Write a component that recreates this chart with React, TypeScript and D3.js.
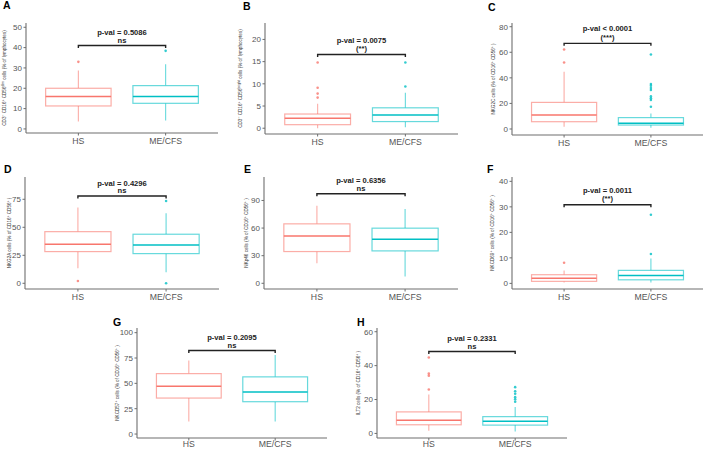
import React from "react";
import * as d3 from "d3";

const categories = ["HS", "ME/CFS"];
const panelLetters = ["A", "B", "C", "D", "E", "F", "G", "H"];

// [lower whisker, Q1, median, Q3, upper whisker]
const hsStats = [
  [3.6, 11.3, 15.9, 20.0, 28.7],
  [0.0, 0.8, 2.25, 3.2, 5.5],
  [1.8, 5.7, 10.9, 20.8, 44.8],
  [13.4, 28.3, 34.8, 46.1, 67.6],
  [21.8, 34.5, 51.5, 64.6, 84.2],
  [0.3, 0.8, 2.0, 3.4, 5.1],
  [12.4, 35.5, 47.2, 59.6, 72.6],
  [1.6, 5.1, 7.8, 12.7, 23.0],
];
const meStats = [
  [4.1, 12.6, 15.9, 21.3, 31.8],
  [0.2, 1.5, 3.0, 4.6, 8.0],
  [1.0, 3.1, 4.4, 8.9, 12.2],
  [9.8, 26.5, 34.2, 43.8, 62.5],
  [7.3, 35.2, 47.9, 59.9, 80.6],
  [0.3, 1.4, 3.1, 5.1, 9.8],
  [12.4, 31.9, 41.4, 56.4, 78.0],
  [1.2, 4.9, 7.2, 9.9, 15.6],
];
const hsOutliers = [
  [33.0],
  [6.9, 7.8, 9.1, 14.8],
  [52.0, 62.2],
  [2.1],
  [],
  [8.1],
  [],
  [25.9, 34.1, 35.3, 44.8],
];
const meOutliers = [
  [38.4],
  [9.4, 14.8],
  [17.4, 22.7, 24.0, 25.5, 30.5, 32.0, 33.9, 35.2, 58.3],
  [0.0, 73.5],
  [],
  [11.5, 26.9],
  [],
  [18.7, 20.1, 21.4, 23.4, 24.9, 27.3],
];
const pValues = [
  "p-val = 0.5086",
  "p-val = 0.0075",
  "p-val < 0.0001",
  "p-val = 0.4296",
  "p-val = 0.6356",
  "p-val = 0.0011",
  "p-val = 0.2095",
  "p-val = 0.2331",
];
const significance = ["ns", "(**)", "(***)", "ns", "ns", "(**)", "ns", "ns"];
const bracketValues = [41, 16.6, 67, 78, 97.3, 30.8, 82.4, 48.3];
const yTicks = [
  [0, 10, 20, 30, 40, 50],
  [0, 5, 10, 15, 20],
  [0, 20, 40, 60, 80],
  [0, 25, 50, 75],
  [0, 30, 60, 90],
  [0, 10, 20, 30, 40],
  [0, 25, 50, 75, 100],
  [0, 20, 40, 60],
];
const yLabels = [
  "CD3^{−} CD16^{+} CD56^{dim} cells (% of lymphocytes)",
  "CD3^{−} CD16^{+} CD56^{bright} cells (% of lymphocytes)",
  "NKG2C cells (% of CD16^{+} CD56^{+} )",
  "NKG2A cells (% of CD16^{+} CD56^{+} )",
  "NKp46 cells (% of CD16^{+} CD56^{+} )",
  "NKCD69^{+} cells (% of CD16^{+} CD56^{+} )",
  "NKCD57^{+} cells (% of CD16^{+} CD56^{+} )",
  "ILT2 cells (% of CD16^{+} CD56^{+} )",
];

// layout (pixel geometry)
const layout = [
  { x0: 26, x1: 218, yTop: 23, yBot: 133, dom: [-2, 52.1], lx: 3, ly: 8.8, labX: 6 },
  { x0: 265, x1: 458, yTop: 23, yBot: 134, dom: [-1.3, 23.7], lx: 243, ly: 9.5, labX: 241.5 },
  { x0: 512, x1: 703, yTop: 23, yBot: 135, dom: [-4.7, 82.9], lx: 488, ly: 10.8, labX: 495 },
  { x0: 25, x1: 219, yTop: 177, yBot: 289, dom: [-5.1, 94.9], lx: 4, ly: 172.5, labX: 11 },
  { x0: 264, x1: 458, yTop: 177, yBot: 289, dom: [-6.2, 115.5], lx: 244, ly: 172.8, labX: 247.5 },
  { x0: 512, x1: 703, yTop: 177, yBot: 289, dom: [-2.2, 41.7], lx: 487, ly: 173.4, labX: 493.5 },
  { x0: 137, x1: 327, yTop: 328, yBot: 438, dom: [-3.9, 104.6], lx: 113, ly: 326, labX: 119 },
  { x0: 377, x1: 567, yTop: 328, yBot: 438, dom: [-2.7, 62.2], lx: 357, ly: 326, labX: 360 },
];

const colors = ["#F8766D", "#00BFC4"];
const FONT = "'Liberation Sans', Arial, Helvetica, sans-serif";

function parseLabel(s: string) {
  const parts: { t: string; sup: boolean }[] = [];
  const re = /\^\{([^}]*)\}/g;
  let last = 0;
  let m;
  while ((m = re.exec(s)) !== null) {
    if (m.index > last) parts.push({ t: s.slice(last, m.index), sup: false });
    parts.push({ t: m[1], sup: true });
    last = m.index + m[0].length;
  }
  if (last < s.length) parts.push({ t: s.slice(last), sup: false });
  return parts;
}

function Panel({ i }: { i: number }) {
  const L = layout[i];
  const x = d3.scaleLinear().domain([0.4, 2.6]).range([L.x0, L.x1]);
  const y = d3.scaleLinear().domain(L.dom).range([L.yBot, L.yTop]);
  const half = x(1.375) - x(1);
  const groups = [
    { stats: hsStats[i], out: hsOutliers[i] },
    { stats: meStats[i], out: meOutliers[i] },
  ];
  const by = y(bracketValues[i]);
  const xa = x(1);
  const xb = x(2);
  const paren = significance[i] !== "ns";
  const midY = (L.yTop + L.yBot) / 2;
  const parts = parseLabel(yLabels[i]);
  const bottomRow = i >= 6;
  return (
    <g>
      <text x={L.lx} y={L.ly} fontFamily={FONT} fontWeight="bold" fontSize={10.5} fill="#000">
        {panelLetters[i]}
      </text>
      <text
        transform={`translate(${L.labX},${midY}) rotate(-90)`}
        textAnchor="middle"
        dy="0.35em"
        fontFamily={FONT}
        fontSize={4.6}
        fill="#333"
      >
        {parts.map((p, k) =>
          p.sup ? (
            <tspan key={k} fontSize={3.4} dy={-1.6}>
              {p.t}
            </tspan>
          ) : (
            <tspan key={k} dy={k > 0 && parts[k - 1].sup ? 1.6 : 0}>
              {p.t}
            </tspan>
          )
        )}
      </text>
      {/* axes */}
      <line x1={L.x0} x2={L.x0} y1={L.yTop} y2={L.yBot} stroke="#6e6e6e" strokeWidth={1.1} />
      <line x1={L.x0} x2={L.x1} y1={L.yBot} y2={L.yBot} stroke="#6e6e6e" strokeWidth={1.1} />
      {yTicks[i].map((t) => (
        <g key={t}>
          <line x1={L.x0 - 2.5} x2={L.x0} y1={y(t)} y2={y(t)} stroke="#6e6e6e" strokeWidth={1} />
          <text
            x={L.x0 - 4}
            y={y(t)}
            dy="0.35em"
            textAnchor="end"
            fontFamily={FONT}
            fontSize={8}
            fill="#555"
          >
            {t}
          </text>
        </g>
      ))}
      {categories.map((c, k) => (
        <g key={c}>
          <line x1={x(k + 1)} x2={x(k + 1)} y1={L.yBot} y2={L.yBot + 2.5} stroke="#6e6e6e" strokeWidth={1} />
          <text
            x={x(k + 1)}
            y={L.yBot + (bottomRow ? 9.3 : 10.5)}
            textAnchor="middle"
            fontFamily={FONT}
            fontSize={8.7}
            fill="#555"
          >
            {c}
          </text>
        </g>
      ))}
      {/* boxes */}
      {groups.map((g, k) => {
        const cx = x(k + 1);
        const [lo, q1, med, q3, hi] = g.stats;
        const col = colors[k];
        return (
          <g key={k}>
            <line x1={cx} x2={cx} y1={y(hi)} y2={y(q3)} stroke={col} strokeOpacity={0.6} strokeWidth={1.1} />
            <line x1={cx} x2={cx} y1={y(q1)} y2={y(lo)} stroke={col} strokeOpacity={0.6} strokeWidth={1.1} />
            <rect
              x={cx - half}
              y={y(q3)}
              width={half * 2}
              height={y(q1) - y(q3)}
              fill="#fff"
              stroke={col}
              strokeOpacity={0.6}
              strokeWidth={1.2}
            />
            <line x1={cx - half} x2={cx + half} y1={y(med)} y2={y(med)} stroke={col} strokeWidth={1.5} />
            {g.out.map((o, j) => (
              <circle key={j} cx={cx} cy={y(o)} r={1.3} fill={col} fillOpacity={0.8} />
            ))}
          </g>
        );
      })}
      {/* bracket */}
      <path
        d={`M${xa},${by + 2.5}V${by}H${xb}V${by + 2.5}`}
        fill="none"
        stroke="#222"
        strokeWidth={1.4}
      />
      <text
        x={(xa + xb) / 2}
        y={by - (paren ? 12 : 10.3)}
        textAnchor="middle"
        fontFamily={FONT}
        fontWeight="bold"
        fontSize={7.6}
        fill="#222"
      >
        {pValues[i]}
      </text>
      <text
        x={(xa + xb) / 2}
        y={by - (paren ? 3.5 : 2.6)}
        textAnchor="middle"
        fontFamily={FONT}
        fontWeight="bold"
        fontSize={7.6}
        fill="#222"
      >
        {significance[i]}
      </text>
    </g>
  );
}

export default function App() {
  return (
    <svg
      width={708}
      height={449}
      viewBox="0 0 708 449"
      style={{ position: "absolute", left: 0, top: 0, background: "#fff" }}
    >
      <rect width={708} height={449} fill="#fff" />
      {panelLetters.map((_, i) => (
        <Panel key={i} i={i} />
      ))}
    </svg>
  );
}
